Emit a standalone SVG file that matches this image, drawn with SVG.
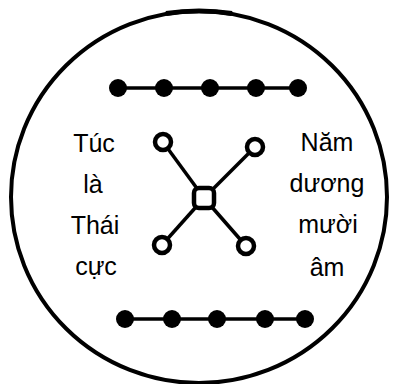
<svg xmlns="http://www.w3.org/2000/svg" width="395" height="384" viewBox="0 0 395 384">
<style>
.t{font-family:"Liberation Sans","DejaVu Sans",sans-serif;font-size:25px;fill:#000;text-anchor:middle}
.dot{fill:#000}
.ln{stroke:#000;stroke-width:3.5;fill:none}
.oc{fill:#fff;stroke:#000;stroke-width:4.5}
</style>
<rect width="395" height="384" fill="#fff"/>
<g id="frame">
<ellipse cx="199" cy="197" rx="188" ry="186" fill="none" stroke="#000" stroke-width="4"/>
<path d="M166 13.5 Q199 8.5 232 13.5" stroke="#000" stroke-width="5" fill="none"/>
</g>
<g id="connectors">
<line class="ln" x1="118" y1="88" x2="298" y2="88"/>
<line class="ln" x1="125" y1="319" x2="305" y2="319"/>
<line class="ln" x1="204" y1="198" x2="163" y2="142"/>
<line class="ln" x1="204" y1="198" x2="255" y2="147"/>
<line class="ln" x1="204" y1="198" x2="162" y2="245"/>
<line class="ln" x1="204" y1="198" x2="246" y2="246"/>
</g>
<g id="top-row">
<circle class="dot" cx="118" cy="88" r="9"/>
<circle class="dot" cx="164" cy="88" r="9"/>
<circle class="dot" cx="210" cy="88" r="9"/>
<circle class="dot" cx="256" cy="88" r="9"/>
<circle class="dot" cx="298" cy="88" r="9"/>
</g>
<g id="bottom-row">
<circle class="dot" cx="125" cy="319" r="9"/>
<circle class="dot" cx="172" cy="319" r="9"/>
<circle class="dot" cx="217" cy="319" r="9"/>
<circle class="dot" cx="265" cy="319" r="9"/>
<circle class="dot" cx="305" cy="319" r="9"/>
</g>
<g id="center"><rect class="oc" x="194" y="188" width="20" height="20" rx="5"/></g>
<g id="n-tl"><circle class="oc" cx="163" cy="142" r="8"/></g>
<g id="n-tr"><circle class="oc" cx="255" cy="147" r="8"/></g>
<g id="n-bl"><circle class="oc" cx="162" cy="245" r="8"/></g>
<g id="n-br"><circle class="oc" cx="246" cy="246" r="8"/></g>
<g id="left-text">
<text class="t" x="94" y="152">Túc</text>
<text class="t" x="93" y="193">là</text>
<text class="t" x="95" y="234">Thái</text>
<text class="t" x="96" y="275">cực</text>
</g>
<g id="right-text">
<text class="t" x="327" y="151">Năm</text>
<text class="t" x="327" y="192">dương</text>
<text class="t" x="328" y="233">mười</text>
<text class="t" x="327" y="276">âm</text>
</g>
</svg>
